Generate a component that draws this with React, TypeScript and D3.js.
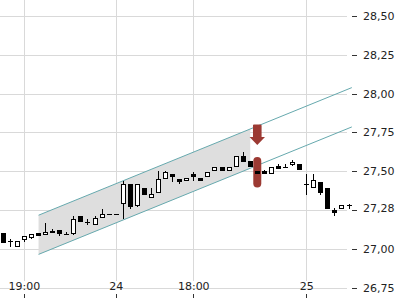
import React from 'react';
import * as d3 from 'd3';

// ---- data ----
const opens = [
  27.100, 27.053, 27.013, 27.058, 27.071, 27.103, 27.089, 27.100, 27.125, 27.097,
  27.093, 27.211, 27.176, 27.157, 27.196, 27.228, 27.228, 27.288, 27.415, 27.277,
  27.389, 27.325, 27.359, 27.449, 27.485, 27.447, 27.434, 27.481, 27.457, 27.463,
  27.500, 27.528, 27.500, 27.528, 27.596, 27.566, 27.500, 27.500, 27.485, 27.532,
  27.528, 27.543, 27.549, 27.417, 27.389, 27.431, 27.393, 27.249, 27.256, 27.281,
];
const highs = [
  27.100, 27.061, 27.052, 27.082, 27.097, 27.103, 27.167, 27.129, 27.125, 27.111,
  27.211, 27.211, 27.191, 27.211, 27.260, 27.228, 27.228, 27.438, 27.415, 27.417,
  27.389, 27.391, 27.502, 27.500, 27.485, 27.447, 27.455, 27.495, 27.457, 27.492,
  27.528, 27.528, 27.528, 27.596, 27.622, 27.566, 27.500, 27.511, 27.524, 27.549,
  27.549, 27.571, 27.549, 27.485, 27.485, 27.431, 27.393, 27.264, 27.280, 27.286,
];
const lows = [
  27.039, 27.013, 27.013, 27.044, 27.061, 27.084, 27.089, 27.100, 27.084, 27.089,
  27.089, 27.172, 27.157, 27.157, 27.196, 27.228, 27.228, 27.191, 27.258, 27.271,
  27.344, 27.325, 27.359, 27.449, 27.431, 27.421, 27.434, 27.438, 27.438, 27.463,
  27.500, 27.500, 27.500, 27.528, 27.562, 27.524, 27.481, 27.485, 27.485, 27.517,
  27.519, 27.532, 27.506, 27.350, 27.389, 27.346, 27.260, 27.215, 27.256, 27.254,
];
const closes = [
  27.039, 27.050, 27.052, 27.082, 27.097, 27.084, 27.106, 27.116, 27.093, 27.089,
  27.190, 27.172, 27.173, 27.196, 27.228, 27.228, 27.228, 27.421, 27.267, 27.417,
  27.344, 27.354, 27.451, 27.498, 27.463, 27.431, 27.455, 27.460, 27.438, 27.492,
  27.528, 27.500, 27.528, 27.596, 27.562, 27.524, 27.481, 27.485, 27.524, 27.517,
  27.519, 27.560, 27.506, 27.414, 27.442, 27.363, 27.260, 27.232, 27.280, 27.278,
];

const yTicks = [28.5, 28.25, 28.0, 27.75, 27.5, 27.25, 27.0, 26.75];
const yTickLabels = ['28,50', '28,25', '28,00', '27,75', '27,50', '', '27,00', '26,75'];
const xTickIndex = [3, 16, 27, 43];
const xTickLabels = ['19:00', '24', '18:00', '25'];

const channelIdx = [5, 49.4];
const channelUpper = [27.217, 28.038];
const channelLower = [26.965, 27.785];
const shadeEndIdx = 35;

const signalIdx = 36;
const arrowPrices = [27.80, 27.72, 27.668]; // top, head base, tip
const markerPrices = [27.592, 27.395];
const lastPriceLabel = '27,28';

// ---- chart ----
const W = 400;
const H = 300;
const FONT = 'DejaVu Sans, sans-serif';
const GRID = '#d9d9d9';
const TEAL = '#66a9ae';
const RED = '#9c3a33';

export default function App() {
  const x = d3.scaleLinear().domain([0, 49]).range([3.3, 349]);
  const y = d3.scaleLinear().domain([26.75, 28.5]).range([287.8, 15.8]);
  const px = (i: number) => Math.floor(x(i));
  const py = (v: number) => Math.round(y(v));

  const interp = (arr: number[], i: number) =>
    arr[0] + ((arr[1] - arr[0]) * (i - channelIdx[0])) / (channelIdx[1] - channelIdx[0]);

  const area = d3
    .area<number>()
    .x((i) => x(i))
    .y0((i) => y(interp(channelLower, i)))
    .y1((i) => y(interp(channelUpper, i)));
  const shadePath = area([channelIdx[0], shadeEndIdx]) || '';
  const line = d3
    .line<number>()
    .x((i) => x(i))
    .y((i) => y(i));

  const upperPath = d3.line<[number, number]>()
    .x((d) => x(d[0]))
    .y((d) => y(d[1]))([[channelIdx[0], channelUpper[0]], [channelIdx[1], channelUpper[1]]]) || '';
  const lowerPath = d3.line<[number, number]>()
    .x((d) => x(d[0]))
    .y((d) => y(d[1]))([[channelIdx[0], channelLower[0]], [channelIdx[1], channelLower[1]]]) || '';
  void line;

  const sx = x(signalIdx);
  const aTop = y(arrowPrices[0]);
  const aBase = y(arrowPrices[1]);
  const aTip = y(arrowPrices[2]);
  const arrowPath = `M${sx - 4.3},${aTop + 1} Q${sx - 4.3},${aTop} ${sx - 3.3},${aTop} L${sx + 3.3},${aTop} Q${sx + 4.3},${aTop} ${sx + 4.3},${aTop + 1} L${sx + 4.3},${aBase} L${sx + 7.7},${aBase} L${sx},${aTip} L${sx - 7.7},${aBase} L${sx - 4.3},${aBase} Z`;

  const mTop = y(markerPrices[0]);
  const mBot = y(markerPrices[1]);

  return (
    <svg
      width={W}
      height={H}
      style={{ position: 'absolute', left: 0, top: 0, background: '#fff' }}
      fontFamily={FONT}
    >
      {/* grid */}
      {yTicks.map((t, k) => (
        <line key={'hg' + k} x1={0} x2={347} y1={py(t) + 0.5} y2={py(t) + 0.5} stroke={GRID} strokeWidth={1} />
      ))}
      {xTickIndex.map((i, k) => (
        <line key={'vg' + k} x1={px(i) + 0.5} x2={px(i) + 0.5} y1={0} y2={281} stroke={GRID} strokeWidth={1} />
      ))}

      {/* channel */}
      <path d={shadePath} fill="#dedede" stroke="none" />
      <path d={upperPath} fill="none" stroke={TEAL} strokeWidth={1} />
      <path d={lowerPath} fill="none" stroke={TEAL} strokeWidth={1} />

      {/* signal marker */}
      <rect x={sx - 4} y={mTop} width={8} height={mBot - mTop} rx={4} ry={4} fill={RED} />

      {/* candles */}
      {opens.map((o, i) => {
        const c = closes[i];
        const cx = px(i);
        const up = c > o;
        const yHi = py(highs[i]);
        const yLo = py(lows[i]);
        let top = py(Math.max(o, c));
        let bot = py(Math.min(o, c));
        if (bot - top < 1) bot = top + 1;
        return (
          <g key={'c' + i}>
            {yLo - yHi > 0 && (
              <line x1={cx + 0.5} x2={cx + 0.5} y1={yHi} y2={yLo} stroke="#000" strokeWidth={1} />
            )}
            {up && bot - top >= 2 ? (
              <rect x={cx - 1.5} y={top + 0.5} width={4} height={bot - top - 1} fill="#fff" stroke="#000" strokeWidth={1} />
            ) : (
              <rect x={cx - 2} y={top} width={5} height={bot - top} fill="#000" />
            )}
          </g>
        );
      })}

      {/* arrow */}
      <path d={arrowPath} fill={RED} />

      {/* y axis */}
      {yTicks.map((t, k) => (
        <g key={'yt' + k}>
          <line x1={352} x2={357} y1={py(t) + 0.5} y2={py(t) + 0.5} stroke="#333" strokeWidth={1} />
          {yTickLabels[k] && (
            <text x={363} y={y(t) + 4} fontSize={11} fill="#222">
              {yTickLabels[k]}
            </text>
          )}
        </g>
      ))}
      <text x={363} y={y(closes[closes.length - 1]) + 6.5} fontSize={11} fill="#222">
        {lastPriceLabel}
      </text>

      {/* x axis */}
      {xTickIndex.map((i, k) => (
        <g key={'xt' + k}>
          <line x1={px(i) + 0.5} x2={px(i) + 0.5} y1={294} y2={298} stroke="#333" strokeWidth={1} />
          <text x={x(i)} y={290} fontSize={11} fill="#222" textAnchor="middle">
            {xTickLabels[k]}
          </text>
        </g>
      ))}
    </svg>
  );
}
